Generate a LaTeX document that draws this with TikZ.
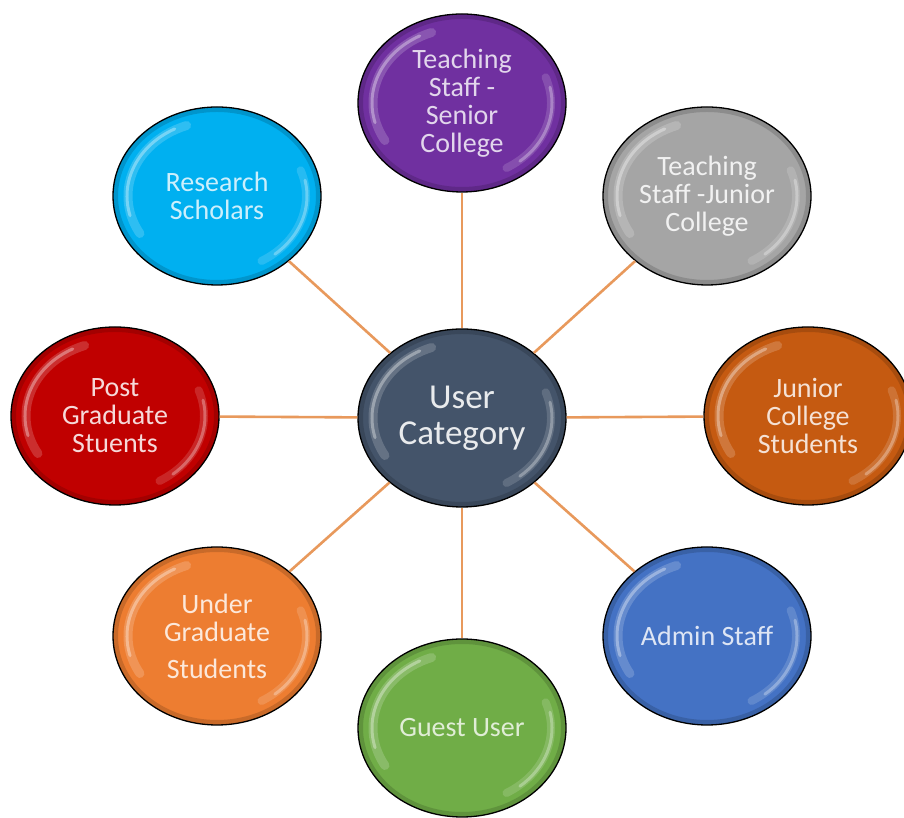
\documentclass[tikz,border=0pt]{standalone}
\usepackage{fontspec}
\setmainfont{Carlito}
\usetikzlibrary{shapes.geometric}
\definecolor{cslate}{HTML}{44546A}
\definecolor{cpurple}{HTML}{7030A0}
\definecolor{cgray}{HTML}{A5A5A5}
\definecolor{cdkorange}{HTML}{C55A11}
\definecolor{cblue}{HTML}{4472C4}
\definecolor{cgreen}{HTML}{70AD47}
\definecolor{corange}{HTML}{ED7D31}
\definecolor{cred}{HTML}{C00000}
\definecolor{ccyan}{HTML}{00B0F0}
\definecolor{clink}{HTML}{E8995C}
\tikzset{
  bub/.style 2 args={ellipse, draw=black, line width=1.3pt, fill=#1, text=#2,
    minimum width=208pt, minimum height=178pt, inner sep=0pt, align=center,
    font=\fontsize{28}{28}\selectfont,
    path picture={
      \draw[white, opacity=0.18, line width=9pt, line cap=round]
        (path picture bounding box.center) ++(110:89pt and 75pt)
        arc[start angle=110, end angle=210, x radius=89pt, y radius=75pt];
      \draw[white, opacity=0.35, line width=3pt, line cap=round]
        (path picture bounding box.center) ++(118:90pt and 76pt)
        arc[start angle=118, end angle=195, x radius=90pt, y radius=76pt];
      \draw[white, opacity=0.15, line width=8pt, line cap=round]
        (path picture bounding box.center) ++(-60:89pt and 75pt)
        arc[start angle=-60, end angle=20, x radius=89pt, y radius=75pt];
      \draw[white, opacity=0.3, line width=3pt, line cap=round]
        (path picture bounding box.center) ++(-50:90pt and 76pt)
        arc[start angle=-50, end angle=12, x radius=90pt, y radius=76pt];
      \draw[black, opacity=0.15, line width=6pt]
        (path picture bounding box.center) ellipse[x radius=102pt, y radius=87pt];
    }},
  link/.style={draw=clink, line width=2.6pt}
}
\begin{document}
\begin{tikzpicture}[x=1pt,y=1pt]
\fill[white] (0,0) rectangle (904,818);
\useasboundingbox (0,0) rectangle (904,818);
\node[bub={cslate}{white!88!cslate}, font=\fontsize{35}{36}\selectfont] (c) at (462,400) {User\\Category};
\node[bub={cpurple}{white!80!cpurple}] (t) at (462,715) {Teaching\\Staff -\\Senior\\College};
\node[bub={cgray}{white!85!cgray}] (tr) at (707,622) {Teaching\\Staff -Junior\\College};
\node[bub={cdkorange}{white!82!cdkorange}] (r) at (808,402) {Junior\\College\\Students};
\node[bub={cblue}{white!82!cblue}] (br) at (707,182) {Admin Staff};
\node[bub={cgreen}{white!78!cgreen}] (b) at (462,90) {Guest User};
\node[bub={corange}{white!82!corange}] (bl) at (217,182) {Under\\Graduate\\[9pt]Students};
\node[bub={cred}{white!85!cred}] (l) at (115,402) {Post\\Graduate\\Stuents};
\node[bub={ccyan}{white!80!ccyan}] (tl) at (217,622) {Research\\Scholars};
\foreach \n in {t,tr,r,br,b,bl,l,tl}{\draw[link] (c) -- (\n);}
\end{tikzpicture}
\end{document}
